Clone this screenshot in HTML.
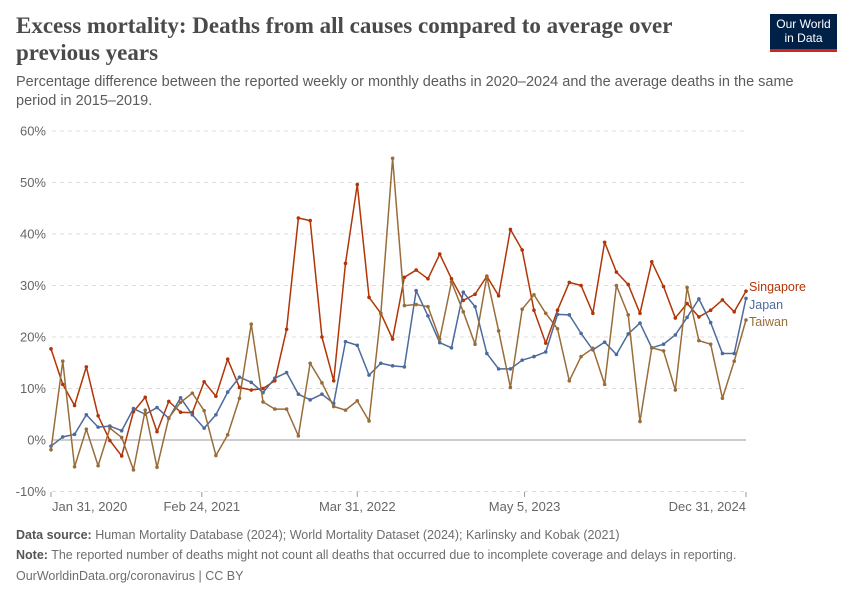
<!DOCTYPE html>
<html><head><meta charset="utf-8"><style>
body{margin:0;background:#fff;width:850px;height:600px;overflow:hidden;font-family:"Liberation Sans",sans-serif;}
.t{position:absolute;left:16px;top:12px;font-family:"Liberation Serif",serif;font-weight:bold;font-size:23px;line-height:27px;color:#4a4a4a;width:720px;}
.s{position:absolute;left:16px;top:73px;font-size:14.5px;line-height:19px;color:#5b5b5b;width:780px;}
.f{position:absolute;left:16px;font-size:12.5px;color:#6e6e6e;}
.f b{color:#555;}
.logo{position:absolute;left:770px;top:14px;width:67px;height:38px;background:#002147;color:#fff;font-size:12px;line-height:14px;text-align:center;padding-top:3px;box-sizing:border-box;border-bottom:3px solid #ce261e;}
</style></head><body>
<div class="t">Excess mortality: Deaths from all causes compared to average over previous years</div>
<div class="s">Percentage difference between the reported weekly or monthly deaths in 2020–2024 and the average deaths in the same period in 2015–2019.</div>
<div class="logo">Our World<br>in Data</div>
<svg id="c" width="850" height="600" style="position:absolute;left:0;top:0"></svg>
<div class="f" style="top:528px"><b>Data source:</b> Human Mortality Database (2024); World Mortality Dataset (2024); Karlinsky and Kobak (2021)</div>
<div class="f" style="top:548px"><b>Note:</b> The reported number of deaths might not count all deaths that occurred due to incomplete coverage and delays in reporting.</div>
<div class="f" style="top:569px">OurWorldinData.org/coronavirus | CC BY</div>
<script>
const singapore=[17.7,10.8,6.7,14.2,4.7,-0.1,-3.1,5.5,8.3,1.6,7.5,5.4,5.3,11.3,8.5,15.7,10.2,9.7,10,11.5,21.5,43.1,42.6,20,11.5,34.3,49.6,27.7,24.6,19.6,31.6,33,31.3,36.1,31.3,27.1,28.3,31.8,28,40.9,36.9,25.2,18.8,25.2,30.6,30,24.6,38.4,32.6,30.2,24.6,34.6,29.8,23.7,26.5,23.9,25.2,27.2,24.9,28.9];
const japan=[-1.2,0.6,1.1,4.9,2.5,2.7,1.8,6.1,5,6.3,4.2,8.2,4.9,2.3,4.9,9.3,12.2,11.2,9.2,12,13.1,8.9,7.8,8.9,7.1,19.1,18.4,12.6,14.9,14.4,14.2,29,24.1,18.9,17.9,28.7,25.9,16.8,13.8,13.8,15.5,16.2,17.1,24.4,24.3,20.7,17.5,19,16.6,20.6,22.7,17.9,18.6,20.4,23.8,27.4,22.8,16.8,16.8,27.5];
const taiwan=[-1.9,15.3,-5.2,2.1,-5,2.3,0.5,-5.8,5.8,-5.3,4.3,7.3,9.1,5.7,-3,1,8.1,22.5,7.4,6,6,0.8,14.9,11.1,6.5,5.8,7.6,3.7,24.5,54.7,26.1,26.3,25.9,19.6,30.7,24.9,18.6,31.7,21.2,10.2,25.4,28.2,24.6,21.6,11.5,16.2,17.8,10.8,30,24.3,3.6,17.9,17.3,9.7,29.6,19.3,18.6,8.1,15.3,23.3];
const yTicks=[-10,0,10,20,30,40,50,60];
const xTickIdx=[0,12.8,26,40.2,59];
const xTickLabels=["Jan 31, 2020","Feb 24, 2021","Mar 31, 2022","May 5, 2023","Dec 31, 2024"];
const names=["Singapore","Japan","Taiwan"];
const colors=["#b13507","#4c6a9c","#996d39"];
const svg=document.getElementById('c');const NS="http://www.w3.org/2000/svg";
const X=i=>51+i*(695/59);const Y=v=>440-v*5.15;
function mk(t,a){const e=document.createElementNS(NS,t);for(const k in a)e.setAttribute(k,a[k]);svg.appendChild(e);return e;}
yTicks.forEach(v=>{
 const l=mk('line',{x1:52,x2:746,y1:Y(v),y2:Y(v),stroke:v===0?'#9a9a9a':'#dddddd','stroke-dasharray':v===0?'':'4,4','stroke-width':1});
 
 
 const t=mk('text',{x:46,y:Y(v)+4.5,'text-anchor':'end','font-size':13,fill:'#666','font-family':'Liberation Sans, sans-serif'});
 t.textContent=v+'%';
 
 
});
xTickIdx.forEach((ix,k)=>{
 const x=X(ix);
 const tk=mk('line',{x1:x,x2:x,y1:492,y2:497,stroke:'#999'});
 
 
 const anchor=k===0?'start':(k===xTickLabels.length-1?'end':'middle');
 const t=mk('text',{x:k===0?x+1:x,y:511,'text-anchor':anchor,'font-size':13,fill:'#666','font-family':'Liberation Sans, sans-serif'});
 t.textContent=xTickLabels[k];
 
 
});
[singapore,japan,taiwan].forEach((s,si)=>{
 const p=mk('polyline',{points:s.map((v,i)=>X(i)+','+Y(v)).join(' '),fill:'none',stroke:colors[si],'stroke-width':1.5,'stroke-linejoin':'round'});
 
 
 s.forEach((v,i)=>{const c=mk('circle',{cx:X(i),cy:Y(v),r:1.8,fill:colors[si]});
  
  });
});
[[287,0],[305,1],[322,2]].forEach(([y,si])=>{
 const t=mk('text',{x:749,y:y+4,'font-size':12.5,fill:colors[si],'font-family':'Liberation Sans, sans-serif'});
 t.textContent=names[si];
 
 
});
</script>
</body></html>
